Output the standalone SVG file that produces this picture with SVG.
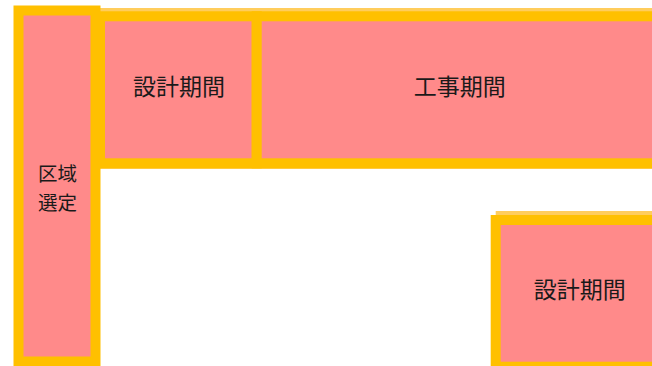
<svg xmlns="http://www.w3.org/2000/svg" width="652" height="366" viewBox="0 0 652 366">
  <defs>
    <style>
      .box { fill: #FF8A8A; stroke: #FFC000; stroke-width: 10; }
      .back { fill: #FFCD5C; }
      .lbl { font-family: "Noto Sans CJK JP", "Noto Sans CJK SC", sans-serif; font-size: 23px; fill: #1a1a1a; text-anchor: middle; }
      .sm { font-size: 19.5px; }
    </style>
  </defs>
  <rect width="652" height="366" fill="#FFFFFF"/>
  <g id="backing">
    <rect class="back" x="100" y="8" width="560" height="161"/>
    <rect class="back" x="495.7" y="211" width="170" height="160"/>
  </g>
  <g id="node-kuiki">
    <rect class="box" x="18.5" y="10.5" width="77" height="351"/>
    <text class="lbl sm" x="57.5" y="181"><tspan x="57.5">区域</tspan><tspan x="57.5" dy="28.5">選定</tspan></text>
  </g>
  <g id="node-sekkei1">
    <rect class="box" x="100" y="16.3" width="156.7" height="147"/>
    <text class="lbl" x="179" y="95.2">設計期間</text>
  </g>
  <g id="node-kouji">
    <rect class="box" x="256.7" y="16.3" width="420" height="147"/>
    <text class="lbl" x="459.7" y="94.5">工事期間</text>
  </g>
  <g id="node-sekkei2">
    <rect class="box" x="495.7" y="220" width="200" height="146.7"/>
    <text class="lbl" x="579.7" y="298.2">設計期間</text>
  </g>
  <g id="connectors"></g>
</svg>
